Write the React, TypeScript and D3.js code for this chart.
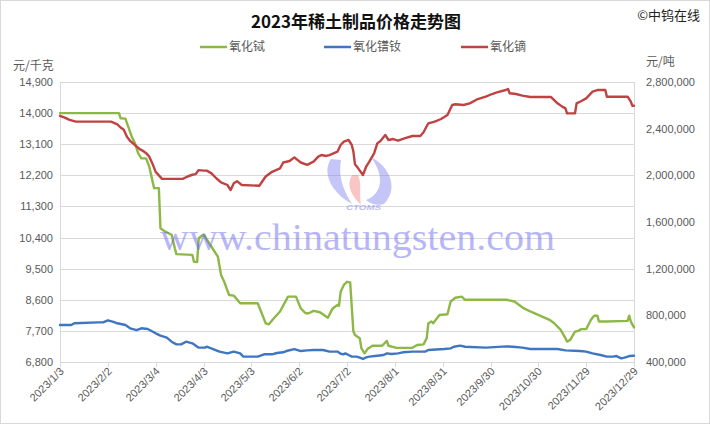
import React from 'react';
import * as d3 from 'd3';

const title = '2023年稀土制品价格走势图';
const copyright = '©中钨在线';
const seriesNames = ['氧化铽', '氧化镨钕', '氧化镝'];
const seriesColors = ['#8DB846', '#3F76C1', '#BF4343'];
const leftUnit = '元/千克';
const rightUnit = '元/吨';
const leftTicks = [6800, 7700, 8600, 9500, 10400, 11300, 12200, 13100, 14000, 14900];
const rightTicks = [400000, 800000, 1200000, 1600000, 2000000, 2400000, 2800000];
const xTickLabels = ['2023/1/3', '2023/2/2', '2023/3/4', '2023/4/3', '2023/5/3', '2023/6/2', '2023/7/2', '2023/8/1', '2023/8/31', '2023/9/30', '2023/10/30', '2023/11/29', '2023/12/29'];

// 氧化铽 (left axis, 元/千克)
const terbium: [string, number][] = [
  ['1/3', 14000], ['2/9', 14000], ['2/10', 13850], ['2/13', 13840], ['2/17', 13320], ['2/19', 13130], ['2/21', 12840],
  ['2/23', 12690], ['2/26', 12690], ['2/28', 12450], ['3/3', 11830], ['3/6', 11830], ['3/7', 10670], ['3/10', 10570],
  ['3/14', 10480], ['3/16', 10090], ['3/17', 9920], ['3/27', 9900], ['3/28', 9700], ['3/30', 9690], ['3/31', 10380],
  ['4/3', 10490], ['4/10', 9990], ['4/12', 9850], ['4/14', 9320], ['4/16', 9120], ['4/19', 8740], ['4/22', 8720],
  ['4/26', 8500], ['5/7', 8500], ['5/12', 7920], ['5/14', 7890], ['5/17', 8060], ['5/21', 8260], ['5/26', 8690],
  ['5/31', 8690], ['6/3', 8350], ['6/6', 8210], ['6/8', 8210], ['6/11', 8280], ['6/15', 8240], ['6/20', 8080],
  ['6/23', 8350], ['6/26', 8450], ['6/27', 8430], ['6/28', 8830], ['6/30', 9030], ['7/2', 9120], ['7/4', 9100],
  ['7/6', 7680], ['7/7', 7580], ['7/10', 7490], ['7/11', 7200], ['7/13', 7050], ['7/15', 7180], ['7/18', 7270],
  ['7/24', 7270], ['7/27', 7410], ['7/28', 7270], ['8/2', 7210], ['8/12', 7210], ['8/15', 7290], ['8/19', 7310],
  ['8/21', 7490], ['8/22', 7920], ['8/24', 7970], ['8/25', 7920], ['8/29', 8160], ['9/3', 8180], ['9/5', 8550],
  ['9/8', 8660], ['9/12', 8690], ['9/14', 8600], ['10/10', 8600], ['10/15', 8550], ['10/18', 8450], ['10/21', 8350],
  ['10/26', 8240], ['10/31', 8140], ['11/6', 8020], ['11/9', 7920], ['11/13', 7730], ['11/16', 7490], ['11/17', 7390],
  ['11/19', 7440], ['11/22', 7680], ['11/24', 7700], ['11/26', 7750], ['11/29', 7750], ['12/2', 8020], ['12/4', 8140],
  ['12/6', 8140], ['12/7', 7970], ['12/12', 7970], ['12/25', 7990], ['12/26', 8140], ['12/27', 7970], ['12/29', 7800],
];

// 氧化镨钕 (right axis, 元/吨)
const prnd: [string, number][] = [
  ['1/3', 717000], ['1/10', 717000], ['1/12', 732000], ['1/27', 740000], ['1/30', 740000], ['2/2', 757000], ['2/5', 746000],
  ['2/8', 732000], ['2/13', 717000], ['2/16', 689000], ['2/20', 674000], ['2/23', 689000], ['2/27', 683000], ['3/4', 646000],
  ['3/7', 626000], ['3/11', 609000], ['3/14', 574000], ['3/17', 551000], ['3/20', 551000], ['3/23', 574000], ['3/27', 560000],
  ['3/31', 523000], ['4/4', 523000], ['4/5', 531000], ['4/9', 511000], ['4/13', 489000], ['4/18', 474000], ['4/22', 489000],
  ['4/26', 474000], ['4/28', 446000], ['5/7', 446000], ['5/11', 466000], ['5/16', 466000], ['5/19', 477000], ['5/23', 483000],
  ['5/25', 494000], ['5/30', 511000], ['6/3', 494000], ['6/7', 500000], ['6/11', 503000], ['6/17', 503000], ['6/21', 489000],
  ['6/26', 489000], ['6/28', 471000], ['6/30', 466000], ['7/1', 474000], ['7/3', 460000], ['7/5', 446000], ['7/8', 446000],
  ['7/10', 437000], ['7/12', 426000], ['7/14', 440000], ['7/16', 446000], ['7/21', 454000], ['7/25', 460000], ['7/27', 474000],
  ['7/30', 469000], ['8/3', 474000], ['8/6', 483000], ['8/12', 489000], ['8/20', 489000], ['8/22', 503000], ['9/1', 511000],
  ['9/5', 517000], ['9/7', 531000], ['9/11', 540000], ['9/14', 531000], ['9/27', 523000], ['10/10', 534000], ['10/14', 531000],
  ['10/20', 523000], ['10/25', 511000], ['11/11', 511000], ['11/16', 500000], ['11/25', 494000], ['11/29', 489000],
  ['12/3', 474000], ['12/8', 460000], ['12/12', 446000], ['12/16', 446000], ['12/18', 451000], ['12/21', 431000],
  ['12/23', 437000], ['12/26', 451000], ['12/29', 454000],
];

// 氧化镝 (right axis, 元/吨)
const dysprosium: [string, number][] = [
  ['1/3', 2510000], ['1/6', 2495000], ['1/9', 2475000], ['1/13', 2460000], ['2/4', 2460000], ['2/8', 2437000], ['2/10', 2410000],
  ['2/12', 2390000], ['2/14', 2330000], ['2/16', 2295000], ['2/19', 2260000], ['2/22', 2225000], ['2/24', 2210000],
  ['2/26', 2190000], ['2/28', 2160000], ['3/2', 2100000], ['3/4', 2030000], ['3/8', 1970000], ['3/21', 1970000],
  ['3/24', 1990000], ['3/27', 2005000], ['3/29', 2010000], ['3/31', 2045000], ['4/3', 2040000], ['4/5', 2040000],
  ['4/8', 2017000], ['4/11', 1975000], ['4/14', 1940000], ['4/18', 1917000], ['4/20', 1874000], ['4/22', 1932000],
  ['4/24', 1950000], ['4/27', 1917000], ['5/8', 1911000], ['5/12', 1990000], ['5/16', 2030000], ['5/21', 2060000],
  ['5/23', 2110000], ['5/27', 2123000], ['5/30', 2154000], ['6/3', 2110000], ['6/7', 2090000], ['6/11', 2117000],
  ['6/14', 2160000], ['6/16', 2174000], ['6/19', 2166000], ['6/21', 2174000], ['6/26', 2203000], ['6/28', 2260000],
  ['6/30', 2289000], ['7/3', 2303000], ['7/5', 2260000], ['7/6', 2203000], ['7/7', 2094000], ['7/9', 2060000],
  ['7/12', 2003000], ['7/14', 2074000], ['7/16', 2117000], ['7/19', 2189000], ['7/21', 2274000], ['7/23', 2294000],
  ['7/26', 2346000], ['7/28', 2303000], ['7/31', 2311000], ['8/3', 2297000], ['8/7', 2317000], ['8/12', 2337000],
  ['8/17', 2337000], ['8/19', 2369000], ['8/22', 2446000], ['8/26', 2460000], ['8/30', 2483000], ['9/3', 2517000],
  ['9/6', 2603000], ['9/8', 2609000], ['9/13', 2603000], ['9/17', 2617000], ['9/22', 2654000], ['9/27', 2674000],
  ['10/1', 2697000], ['10/4', 2711000], ['10/9', 2729000], ['10/11', 2740000], ['10/12', 2703000], ['10/16', 2697000],
  ['10/20', 2683000], ['10/25', 2671000], ['11/7', 2671000], ['11/11', 2617000], ['11/14', 2589000], ['11/16', 2574000],
  ['11/17', 2531000], ['11/22', 2531000], ['11/23', 2617000], ['11/26', 2637000], ['11/29', 2660000], ['12/3', 2717000],
  ['12/6', 2731000], ['12/11', 2731000], ['12/12', 2674000], ['12/25', 2674000], ['12/27', 2631000], ['12/28', 2597000],
  ['12/29', 2597000],
];

const W = 710;
const H = 426;
const M = { left: 60, right: 634, top: 82, bottom: 362 };

const parseMD = (s: string) => {
  const [m, d] = s.split('/').map(Number);
  return new Date(2023, m - 1, d);
};
const parseYMD = (s: string) => {
  const [y, m, d] = s.split('/').map(Number);
  return new Date(y, m - 1, d);
};

const xTicks = xTickLabels.map(parseYMD);

const x = d3.scaleTime().domain([xTicks[0], xTicks[xTicks.length - 1]]).range([M.left, M.right]);
const yL = d3.scaleLinear().domain([6800, 14900]).range([M.bottom, M.top]);
const yR = d3.scaleLinear().domain([400000, 2800000]).range([M.bottom, M.top]);

const fmt = d3.format(',');

const lineL = d3.line<[string, number]>().x((d) => x(parseMD(d[0]))).y((d) => yL(d[1]));
const lineR = d3.line<[string, number]>().x((d) => x(parseMD(d[0]))).y((d) => yR(d[1]));

const textGrey = '#595959';
const gridGrey = '#d9d9d9';
const sansFont = '"Liberation Sans", Arial, sans-serif';
const cjkFont = '"Noto Sans CJK SC", "Noto Sans", sans-serif';

export default function App() {
  const series = [
    { name: seriesNames[0], color: seriesColors[0], d: lineL(terbium) },
    { name: seriesNames[1], color: seriesColors[1], d: lineR(prnd) },
    { name: seriesNames[2], color: seriesColors[2], d: lineR(dysprosium) },
  ];
  const legendX = [200, 324, 461];
  return (
    <svg width={W} height={H} style={{ position: 'absolute', left: 0, top: 0, background: '#fff' }}>
      <rect x={0.5} y={0.5} width={W - 1} height={423} fill="#fff" stroke={gridGrey} />
      {/* title */}
      <text x={356} y={28} textAnchor="middle" fontFamily={cjkFont} fontWeight="bold" fontSize={17} fill="#111">
        {title}
      </text>
      <text x={700} y={20} textAnchor="end" fontFamily={cjkFont} fontSize={13} fill="#222">
        {copyright}
      </text>
      {/* legend */}
      {series.map((s, i) => (
        <g key={s.name}>
          <line x1={legendX[i]} x2={legendX[i] + 27} y1={47} y2={47} stroke={s.color} strokeWidth={2.5} />
          <text x={legendX[i] + 29} y={51} fontFamily={cjkFont} fontSize={12} fill={textGrey}>
            {s.name}
          </text>
        </g>
      ))}
      {/* units */}
      <text x={13} y={70} fontFamily={cjkFont} fontSize={12} fill={textGrey}>{leftUnit}</text>
      <text x={646} y={66} fontFamily={cjkFont} fontSize={12} fill={textGrey}>{rightUnit}</text>
      {/* gridlines */}
      {leftTicks.map((t) => (
        <line key={t} x1={M.left} x2={M.right} y1={Math.round(yL(t)) + 0.5} y2={Math.round(yL(t)) + 0.5} stroke={gridGrey} />
      ))}
      <line x1={M.left + 0.5} x2={M.left + 0.5} y1={M.top} y2={M.bottom} stroke={gridGrey} />
      <line x1={M.right + 0.5} x2={M.right + 0.5} y1={M.top} y2={M.bottom} stroke={gridGrey} />
      {/* x ticks */}
      {xTicks.map((t, i) => {
        const xx = Math.round(x(t)) + 0.5;
        return (
          <g key={i}>
            <line x1={xx} x2={xx} y1={M.bottom} y2={M.bottom + 5} stroke={gridGrey} />
            <text
              transform={`translate(${xx + 4},${M.bottom + 10}) rotate(-45)`}
              textAnchor="end"
              fontFamily={sansFont}
              fontSize={11}
              fill={textGrey}
            >
              {xTickLabels[i]}
            </text>
          </g>
        );
      })}
      {/* left ticks */}
      {leftTicks.map((t) => (
        <text key={t} x={53} y={yL(t) + 4} textAnchor="end" fontFamily={sansFont} fontSize={11} fill={textGrey}>
          {fmt(t)}
        </text>
      ))}
      {rightTicks.map((t) => (
        <text key={t} x={646} y={yR(t) + 4} fontFamily={sansFont} fontSize={11} fill={textGrey}>
          {fmt(t)}
        </text>
      ))}
      {/* lines */}
      {series.map((s) => (
        <path key={s.name} d={s.d || ''} fill="none" stroke={s.color} strokeWidth={2.4} strokeLinejoin="round" strokeLinecap="round" />
      ))}
      {/* watermark */}
      <g opacity={0.45}>
        <path d="M331,159 C322,172 330,192 352,204 C343,190 338,176 341,160 Z" fill="#7f7ff0" />
        <path d="M352,175 C346,185 351,195 361,205 C359,194 362,184 358,175 Z" fill="#f27f7f" />
        <path d="M371,157 C390,167 399,188 384,204 C378,206 370,204 366,200 C381,194 386,178 371,157 Z" fill="#7f7ff0" />
        <text x={346} y={210} fontFamily={sansFont} fontStyle="italic" fontWeight="bold" fontSize={8} fill="#6b6bf0" textLength={35} lengthAdjust="spacingAndGlyphs">
          CTOMS
        </text>
      </g>
      <text x={160} y={250} fontFamily='"Liberation Serif", "Times New Roman", serif' fontSize={38} fill="#6f6ff2" opacity={0.5} textLength={395} lengthAdjust="spacingAndGlyphs">
        www.chinatungsten.com
      </text>
    </svg>
  );
}
